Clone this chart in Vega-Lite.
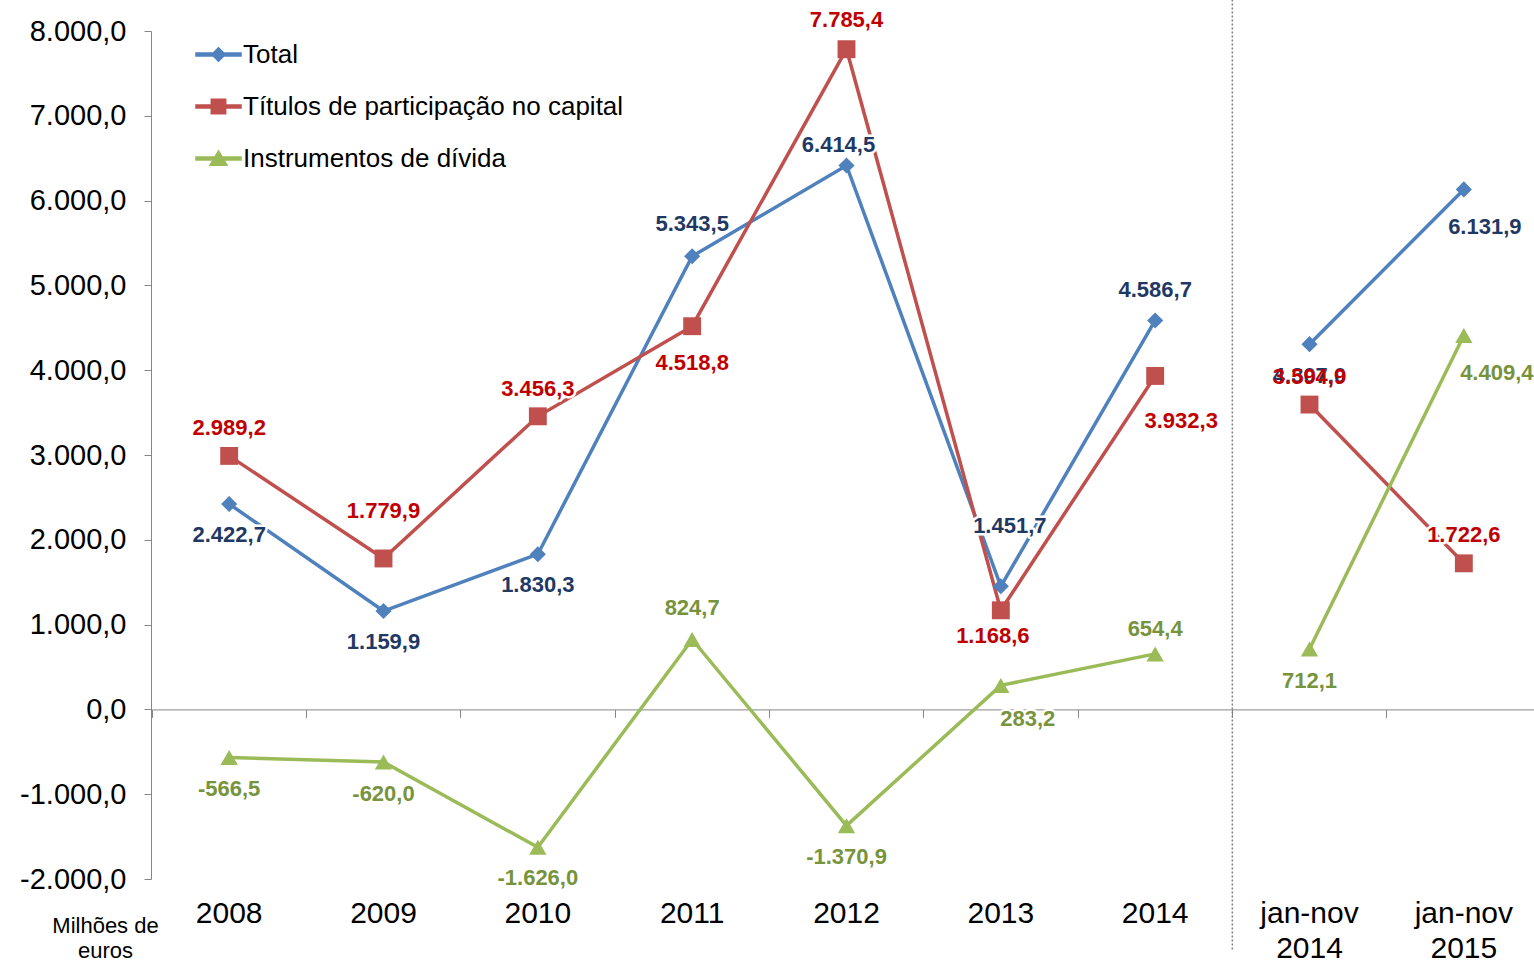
{
  "$schema": "https://vega.github.io/schema/vega-lite/v6.json",
  "width": 1383,
  "height": 848,
  "autosize": {"type": "none"},
  "padding": {"left": 151, "top": 31, "right": 0, "bottom": 84},
  "background": "white",
  "config": {
    "view": {"stroke": null},
    "font": "Liberation Sans",
    "locale": {"number": {"decimal": ",", "thousands": ".", "grouping": [3], "currency": ["", " €"], "minus": "-"}}
  },
  "data": {
    "values": [
      {"periodo": "2008", "serie": "Total", "valor": 2422.7, "seg": "anual"},
      {"periodo": "2009", "serie": "Total", "valor": 1159.9, "seg": "anual"},
      {"periodo": "2010", "serie": "Total", "valor": 1830.3, "seg": "anual"},
      {"periodo": "2011", "serie": "Total", "valor": 5343.5, "seg": "anual"},
      {"periodo": "2012", "serie": "Total", "valor": 6414.5, "seg": "anual"},
      {"periodo": "2013", "serie": "Total", "valor": 1451.7, "seg": "anual"},
      {"periodo": "2014", "serie": "Total", "valor": 4586.7, "seg": "anual"},
      {"periodo": "jan-nov 2014", "serie": "Total", "valor": 4307.0, "seg": "jan-nov"},
      {"periodo": "jan-nov 2015", "serie": "Total", "valor": 6131.9, "seg": "jan-nov"},
      {"periodo": "2008", "serie": "Títulos de participação no capital", "valor": 2989.2, "seg": "anual"},
      {"periodo": "2009", "serie": "Títulos de participação no capital", "valor": 1779.9, "seg": "anual"},
      {"periodo": "2010", "serie": "Títulos de participação no capital", "valor": 3456.3, "seg": "anual"},
      {"periodo": "2011", "serie": "Títulos de participação no capital", "valor": 4518.8, "seg": "anual"},
      {"periodo": "2012", "serie": "Títulos de participação no capital", "valor": 7785.4, "seg": "anual"},
      {"periodo": "2013", "serie": "Títulos de participação no capital", "valor": 1168.6, "seg": "anual"},
      {"periodo": "2014", "serie": "Títulos de participação no capital", "valor": 3932.3, "seg": "anual"},
      {"periodo": "jan-nov 2014", "serie": "Títulos de participação no capital", "valor": 3594.9, "seg": "jan-nov"},
      {"periodo": "jan-nov 2015", "serie": "Títulos de participação no capital", "valor": 1722.6, "seg": "jan-nov"},
      {"periodo": "2008", "serie": "Instrumentos de dívida", "valor": -566.5, "seg": "anual"},
      {"periodo": "2009", "serie": "Instrumentos de dívida", "valor": -620.0, "seg": "anual"},
      {"periodo": "2010", "serie": "Instrumentos de dívida", "valor": -1626.0, "seg": "anual"},
      {"periodo": "2011", "serie": "Instrumentos de dívida", "valor": 824.7, "seg": "anual"},
      {"periodo": "2012", "serie": "Instrumentos de dívida", "valor": -1370.9, "seg": "anual"},
      {"periodo": "2013", "serie": "Instrumentos de dívida", "valor": 283.2, "seg": "anual"},
      {"periodo": "2014", "serie": "Instrumentos de dívida", "valor": 654.4, "seg": "anual"},
      {"periodo": "jan-nov 2014", "serie": "Instrumentos de dívida", "valor": 712.1, "seg": "jan-nov"},
      {"periodo": "jan-nov 2015", "serie": "Instrumentos de dívida", "valor": 4409.4, "seg": "jan-nov"}
    ]
  },
  "resolve": {"axis": {"x": "independent"}},
  "layer": [
    {
      "mark": {"type": "line", "strokeWidth": 3.5},
      "encoding": {
        "x": {
          "field": "periodo", "type": "nominal", "sort": null,
          "scale": {"type": "band", "paddingInner": 0, "paddingOuter": 0, "range": [1, 1390],
            "domain": ["2008", "2009", "2010", "2011", "2012", "2013", "2014", "jan-nov 2014", "jan-nov 2015"]},
          "axis": {
            "orient": "bottom",
            "domain": false, "ticks": false, "tickSize": 0, "labelPadding": 19,
            "labelFontSize": 30, "labelColor": "#000000", "labelAngle": 0,
            "labelExpr": "split(datum.label, ' ')", "labelLineHeight": 35,
            "title": null, "grid": false
          }
        },
        "y": {
          "field": "valor", "type": "quantitative",
          "scale": {"domain": [-2000, 8000], "nice": false, "zero": false},
          "axis": {
            "values": [-2000, -1000, 0, 1000, 2000, 3000, 4000, 5000, 6000, 7000, 8000],
            "format": ",.1f", "grid": false,
            "domainColor": "#868686", "tickColor": "#868686", "tickSize": 7,
            "labelPadding": 18, "labelFontSize": 29, "labelColor": "#000000",
            "title": ["Milhões de", "euros"], "titleAngle": 0, "titleX": -46, "titleY": 884,
            "titleAlign": "center", "titleBaseline": "top", "titleFontSize": 22,
            "titleFontWeight": "normal", "titleLineHeight": 25, "titleColor": "#000000"
          }
        },
        "color": {
          "field": "serie", "type": "nominal",
          "scale": {
            "domain": ["Total", "Títulos de participação no capital", "Instrumentos de dívida"],
            "range": ["#4F81BD", "#C0504D", "#9BBB59"]
          }
        },
        "detail": {"field": "seg"}
      }
    },
    {
      "transform": [{"filter": "datum.serie == 'Total'"}],
      "mark": {"type": "point", "shape": "diamond", "filled": true, "opacity": 1, "size": 260, "color": "#4F81BD"},
      "encoding": {
        "x": {
          "field": "periodo", "type": "nominal", "sort": null,
          "axis": {
            "orient": "bottom",
            "offset": -169.6, "bandPosition": 0, "labels": false, "domain": true,
            "domainColor": "#868686", "tickColor": "#868686", "tickSize": 8,
            "title": null, "grid": false
          }
        },
        "y": {"field": "valor", "type": "quantitative"}
      }
    },
    {
      "transform": [{"filter": "datum.serie == 'Títulos de participação no capital'"}],
      "mark": {"type": "point", "shape": "square", "filled": true, "opacity": 1, "size": 320, "color": "#C0504D"},
      "encoding": {
        "x": {"field": "periodo", "type": "nominal", "sort": null, "axis": null},
        "y": {"field": "valor", "type": "quantitative"}
      }
    },
    {
      "transform": [{"filter": "datum.serie == 'Instrumentos de dívida'"}],
      "mark": {"type": "point", "shape": "triangle-up", "filled": true, "opacity": 1, "size": 300, "color": "#9BBB59"},
      "encoding": {
        "x": {"field": "periodo", "type": "nominal", "sort": null, "axis": null},
        "y": {"field": "valor", "type": "quantitative"}
      }
    },
    {
      "transform": [{"filter": "false"}],
      "mark": {"type": "point", "filled": true, "opacity": 1},
      "encoding": {
        "x": {"field": "periodo", "type": "nominal", "sort": null, "axis": null},
        "y": {"field": "valor", "type": "quantitative"},
        "color": {
          "field": "serie", "type": "nominal",
          "legend": {
            "orient": "none", "legendX": 44, "legendY": 0, "title": null,
            "symbolSize": 2025, "rowPadding": 15, "symbolOpacity": 1,
            "labelFontSize": 26, "labelColor": "#000000", "labelOffset": 1, "padding": 0,
            "labelLimit": 600
          }
        },
        "shape": {
          "field": "serie", "type": "nominal",
          "scale": {
            "domain": ["Total", "Títulos de participação no capital", "Instrumentos de dívida"],
            "range": [
              "M-1,-0.07H1V0.07H-1ZM0,-0.3L0.3,0L0,0.3L-0.3,0Z",
              "M-1,-0.07H1V0.07H-1ZM-0.32,-0.32H0.32V0.32H-0.32Z",
              "M-1,-0.07H1V0.07H-1ZM0,-0.34L0.38,0.3H-0.38Z"
            ]
          },
          "legend": {
            "orient": "none", "legendX": 44, "legendY": 0, "title": null,
            "symbolSize": 2025, "rowPadding": 15, "symbolOpacity": 1,
            "labelFontSize": 26, "labelColor": "#000000", "labelOffset": 1, "padding": 0,
            "labelLimit": 600
          }
        }
      }
    },
    {
      "data": {"values": [{"marca": "divisao"}]},
      "mark": {"type": "rule", "color": "#7F7F7F", "strokeDash": [2, 2], "strokeWidth": 1.5},
      "encoding": {
        "x": {"datum": "jan-nov 2014", "type": "nominal", "bandPosition": 0, "axis": null},
        "y": {"datum": 8370, "type": "quantitative"},
        "y2": {"datum": -2840}
      }
    },
    {
      "mark": {
        "type": "text", "font": "Liberation Sans", "fontSize": 22, "fontWeight": "bold",
        "align": "center", "baseline": "middle",
        "fill": "white", "stroke": "white", "strokeWidth": 5, "strokeJoin": "round",
        "dx": {"expr": "({'Tot2012':-8,'Tot2013':9,'Totjan-nov 2015':21,'Tít2013':-8,'Tít2014':26,'Ins2013':27,'Insjan-nov 2015':33})[substring(datum.serie,0,3)+datum.periodo] || 0"},
        "dy": {"expr": "({'Tot2008':31,'Tot2009':31,'Tot2010':31,'Tot2011':-32,'Tot2012':-20,'Tot2013':-60,'Tot2014':-30,'Totjan-nov 2014':32,'Totjan-nov 2015':38,'Tít2008':-28,'Tít2009':-47,'Tít2010':-27,'Tít2011':37,'Tít2012':-29,'Tít2013':26,'Tít2014':45,'Títjan-nov 2014':-28,'Títjan-nov 2015':-28,'Ins2008':32,'Ins2009':32,'Ins2010':31,'Ins2011':-31,'Ins2012':31,'Ins2013':34,'Ins2014':-25,'Insjan-nov 2014':32,'Insjan-nov 2015':38})[substring(datum.serie,0,3)+datum.periodo] || 0"}
      },
      "encoding": {
        "x": {"field": "periodo", "type": "nominal", "sort": null, "axis": null},
        "y": {"field": "valor", "type": "quantitative"},
        "text": {"field": "valor", "type": "quantitative", "format": ",.1f"}
      }
    },
    {
      "mark": {
        "type": "text", "font": "Liberation Sans", "fontSize": 22, "fontWeight": "bold",
        "align": "center", "baseline": "middle",
        "dx": {"expr": "({'Tot2012':-8,'Tot2013':9,'Totjan-nov 2015':21,'Tít2013':-8,'Tít2014':26,'Ins2013':27,'Insjan-nov 2015':33})[substring(datum.serie,0,3)+datum.periodo] || 0"},
        "dy": {"expr": "({'Tot2008':31,'Tot2009':31,'Tot2010':31,'Tot2011':-32,'Tot2012':-20,'Tot2013':-60,'Tot2014':-30,'Totjan-nov 2014':32,'Totjan-nov 2015':38,'Tít2008':-28,'Tít2009':-47,'Tít2010':-27,'Tít2011':37,'Tít2012':-29,'Tít2013':26,'Tít2014':45,'Títjan-nov 2014':-28,'Títjan-nov 2015':-28,'Ins2008':32,'Ins2009':32,'Ins2010':31,'Ins2011':-31,'Ins2012':31,'Ins2013':34,'Ins2014':-25,'Insjan-nov 2014':32,'Insjan-nov 2015':38})[substring(datum.serie,0,3)+datum.periodo] || 0"}
      },
      "encoding": {
        "x": {"field": "periodo", "type": "nominal", "sort": null, "axis": null},
        "y": {"field": "valor", "type": "quantitative"},
        "text": {"field": "valor", "type": "quantitative", "format": ",.1f"},
        "fill": {
          "field": "serie", "type": "nominal",
          "scale": {
            "domain": ["Total", "Títulos de participação no capital", "Instrumentos de dívida"],
            "range": ["#1F3864", "#C00000", "#77933C"]
          },
          "legend": null
        }
      }
    }
  ]
}
